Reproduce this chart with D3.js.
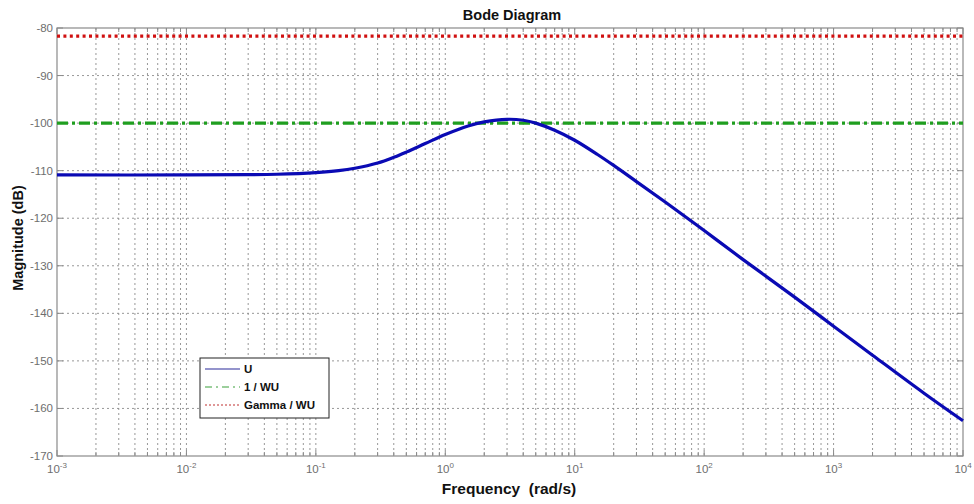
<!DOCTYPE html>
<html>
<head>
<meta charset="utf-8">
<script src="https://cdn.jsdelivr.net/npm/d3@7/dist/d3.min.js"></script>
<style>
  html, body { margin: 0; padding: 0; background: #fff; }
  svg { display: block; font-family: Arial, "Liberation Sans", sans-serif; }
</style>
</head>
<body>
<svg id="chart" width="974" height="504"></svg>
<script>
// Frequency response samples (rad/s) and magnitude of U (dB)
const freq = [0.001, 0.01, 0.03, 0.05, 0.1, 0.15, 0.2, 0.3, 0.4, 0.5, 0.7, 1, 1.5, 2,
              3, 4, 5, 7, 10, 15, 20, 30, 50, 100, 200, 500, 1000, 2000, 5000, 10000];
const magU = [-110.9, -110.9, -110.85, -110.75, -110.4, -110.0, -109.5, -108.4, -107.2, -106.1,
              -104.3, -102.4, -100.6, -99.75, -99.2, -99.4, -100.0, -101.5, -103.6, -106.6,
              -108.9, -112.3, -116.6, -122.6, -128.7, -136.6, -142.7, -148.8, -156.8, -162.6];
// Constant bounds
const invWU = -100;        // 1 / WU
const gammaWU = -81.7;     // Gamma / WU
const yTicks = [-80, -90, -100, -110, -120, -130, -140, -150, -160, -170];
const xDecades = [-3, -2, -1, 0, 1, 2, 3, 4];
const legendItems = ["U", "1 / WU", "Gamma / WU"];

const svg = d3.select("#chart");
const m = { left: 57, top: 28, right: 963, bottom: 456 };

const x = d3.scaleLog().domain([1e-3, 1e4]).range([m.left, m.right]);
const y = d3.scaleLinear().domain([-170, -80]).range([m.bottom, m.top]);

const gridColor = "#8c8c8c";
const axisColor = "#8a8a8a";

// minor + major frequency positions
const minorFreqs = [];
xDecades.slice(0, -1).forEach(d => {
  for (let k = 1; k <= 9; k++) minorFreqs.push(k * Math.pow(10, d));
});
minorFreqs.push(1e4);

const grid = svg.append("g");
grid.selectAll("line.v").data(minorFreqs.filter(f => f > 1e-3 && f < 1e4)).join("line")
  .attr("x1", d => x(d)).attr("x2", d => x(d))
  .attr("y1", m.top).attr("y2", m.bottom)
  .attr("stroke", gridColor).attr("stroke-width", 0.9)
  .attr("stroke-dasharray", "2,3");
grid.selectAll("line.h").data(yTicks.filter(v => v > -170 && v < -80)).join("line")
  .attr("x1", m.left).attr("x2", m.right)
  .attr("y1", d => y(d)).attr("y2", d => y(d))
  .attr("stroke", gridColor).attr("stroke-width", 0.9)
  .attr("stroke-dasharray", "2,3");

// Frame and inward ticks
svg.append("rect").attr("x", m.left).attr("y", m.top)
  .attr("width", m.right - m.left).attr("height", m.bottom - m.top)
  .attr("fill", "none").attr("stroke", axisColor).attr("stroke-width", 1.2);

const ticks = svg.append("g").attr("stroke", axisColor).attr("stroke-width", 1);
minorFreqs.forEach(f => {
  const isMajor = Math.abs(Math.log10(f) - Math.round(Math.log10(f))) < 1e-9;
  const len = isMajor ? 6 : 4;
  ticks.append("line").attr("x1", x(f)).attr("x2", x(f)).attr("y1", m.bottom).attr("y2", m.bottom - len);
  ticks.append("line").attr("x1", x(f)).attr("x2", x(f)).attr("y1", m.top).attr("y2", m.top + len);
});
yTicks.forEach(v => {
  ticks.append("line").attr("x1", m.left).attr("x2", m.left + 6).attr("y1", y(v)).attr("y2", y(v));
  ticks.append("line").attr("x1", m.right).attr("x2", m.right - 6).attr("y1", y(v)).attr("y2", y(v));
});

// Y tick labels
svg.append("g").selectAll("text").data(yTicks).join("text")
  .attr("x", m.left - 4).attr("y", d => y(d) + 4)
  .attr("text-anchor", "end").attr("font-size", 11.5).attr("fill", "#6e6e6e")
  .text(d => d);

// X tick labels: 10 with superscript exponent
const xl = svg.append("g").attr("fill", "#6e6e6e");
xDecades.forEach(d => {
  const t = xl.append("text").attr("x", x(Math.pow(10, d))).attr("y", 473)
    .attr("text-anchor", "middle").attr("font-size", 11.5);
  t.append("tspan").text("10");
  t.append("tspan").attr("dy", -5).attr("font-size", 8).text(d);
});

// Constant lines
svg.append("line").attr("x1", m.left).attr("x2", m.right)
  .attr("y1", y(gammaWU)).attr("y2", y(gammaWU))
  .attr("stroke", "#d01010").attr("stroke-width", 3.2).attr("stroke-dasharray", "3,3.4");
svg.append("line").attr("x1", m.left).attr("x2", m.right)
  .attr("y1", y(invWU)).attr("y2", y(invWU))
  .attr("stroke", "#1f9e1f").attr("stroke-width", 3.2).attr("stroke-dasharray", "11,4,3,4");

// Magnitude of U
const line = d3.line().x(d => x(d[0])).y(d => y(d[1])).curve(d3.curveCatmullRom.alpha(0.5));
svg.append("path").datum(freq.map((f, i) => [f, magU[i]]))
  .attr("d", line).attr("fill", "none")
  .attr("stroke", "#0a0ab4").attr("stroke-width", 3.2).attr("stroke-linejoin", "round");

// Title and axis labels
svg.append("text").attr("x", 512).attr("y", 20).attr("text-anchor", "middle")
  .attr("font-size", 14.5).attr("font-weight", "bold").attr("fill", "#111").text("Bode Diagram");
svg.append("text").attr("x", 509).attr("y", 494).attr("text-anchor", "middle")
  .attr("font-size", 15.5).attr("font-weight", "bold").attr("fill", "#111")
  .attr("xml:space", "preserve").text("Frequency  (rad/s)");
svg.append("text").attr("transform", "translate(23,238) rotate(-90)")
  .attr("text-anchor", "middle").attr("font-size", 14.5).attr("font-weight", "bold")
  .attr("fill", "#111").text("Magnitude (dB)");

// Legend
const lg = svg.append("g");
lg.append("rect").attr("x", 200).attr("y", 358).attr("width", 129).attr("height", 60)
  .attr("fill", "#fff").attr("stroke", "#222").attr("stroke-width", 1);
const legStyles = [
  { color: "#2a2a9a", dash: null },
  { color: "#3aa03a", dash: "7,4,2,4" },
  { color: "#c03030", dash: "2,2" }
];
legendItems.forEach((name, i) => {
  const yy = 369 + i * 18;
  lg.append("line").attr("x1", 205).attr("x2", 240).attr("y1", yy).attr("y2", yy)
    .attr("stroke", legStyles[i].color).attr("stroke-width", 1.2)
    .attr("stroke-dasharray", legStyles[i].dash);
  lg.append("text").attr("x", 244).attr("y", yy + 4).attr("font-size", 11.5)
    .attr("font-weight", "bold").attr("fill", "#111").text(name);
});
</script>
</body>
</html>
